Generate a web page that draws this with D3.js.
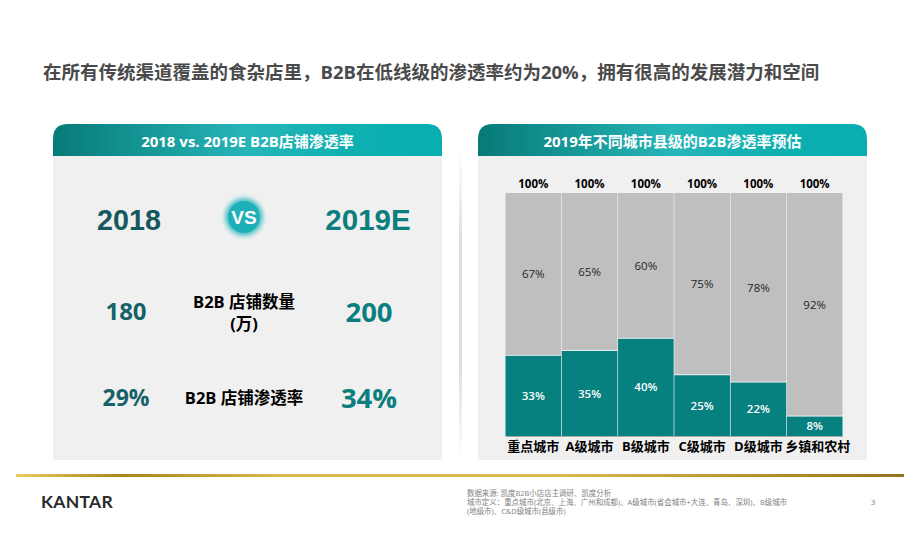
<!DOCTYPE html>
<html><head><meta charset="utf-8">
<script src="https://cdn.jsdelivr.net/npm/d3@7"></script>
<style>html,body{margin:0;padding:0;background:#fff}svg{display:block}
text{font-family:"Open Sans","Noto Sans CJK SC",sans-serif}</style></head>
<body><div id="c"></div>
<script>
const title="在所有传统渠道覆盖的食杂店里，B2B在低线级的渗透率约为20%，拥有很高的发展潜力和空间";
const leftTitle="2018 vs. 2019E B2B店铺渗透率";
const rightTitle="2019年不同城市县级的B2B渗透率预估";
const categories=["重点城市","A级城市","B级城市","C级城市","D级城市","乡镇和农村"];
const penetrated=[33,35,40,25,22,8];
const remaining=[67,65,60,75,78,92];
const totals=[100,100,100,100,100,100];
const compareRows=[
 {l:"180",m:["B2B 店铺数量","(万)"],r:"200",y:312,my:302,ls:24,rs:27.5},
 {l:"29%",m:["B2B 店铺渗透率"],r:"34%",y:398,my:398,ls:23,rs:27.5}];
const footnotes=["数据来源: 凯度B2B小店店主调研、凯度分析","城市定义：重点城市(北京、上海、广州和成都)、A级城市(省会城市+大连、青岛、深圳)、B级城市","(地级市)、C&D级城市(县级市)"];

const W=920,H=559;
const svg=d3.select("#c").append("svg").attr("width",W).attr("height",H);
const defs=svg.append("defs");
function grad(id,stops){const g=defs.append("linearGradient").attr("id",id);
 stops.forEach(s=>g.append("stop").attr("offset",s[0]).attr("stop-color",s[1]));}
grad("hdr",[[0,"#067a78"],[.5,"#27b5b8"],[.75,"#0fb0b2"],[1,"#08aeb0"]]);
grad("gold",[[0,"#e6cd62"],[.12,"#a8851e"],[.3,"#d8bc50"],[.6,"#d9bd52"],[1,"#94741a"]]);
const sh=defs.append("linearGradient").attr("id","sh").attr("x1",0).attr("x2",0).attr("y1",0).attr("y2",1);
[[0,0],[.3,1],[.7,1],[1,0]].forEach(s=>sh.append("stop").attr("offset",s[0]).attr("stop-color","#ddd").attr("stop-opacity",s[1]));
defs.append("filter").attr("id","glow").attr("x","-40%").attr("y","-40%").attr("width","180%").attr("height","180%")
 .append("feGaussianBlur").attr("stdDeviation",2);

function txt(x,y,s,size,fill,weight,anchor){
 return svg.append("text").attr("x",x).attr("y",y).attr("dy","0.35em").attr("text-anchor",anchor||"middle")
  .attr("font-size",size).attr("fill",fill).attr("font-weight",weight||400).text(s);}

txt(43,73,title,18.5,"#4a4a4a",700,"start");

function panel(x,w,t){
 svg.append("rect").attr("x",x).attr("y",156).attr("width",w).attr("height",304).attr("fill","#f0f0f0");
 const r=15,y=124,h=32;
 svg.append("path").attr("d",`M${x},${y+h}V${y+r}Q${x},${y} ${x+r},${y}H${x+w-r}Q${x+w},${y} ${x+w},${y+r}V${y+h}Z`).attr("fill","url(#hdr)");
 return txt(x+w/2,142,t,15,"#fff",700);
}
panel(53,389,leftTitle);
panel(478,389,rightTitle);
svg.append("rect").attr("x",459).attr("y",150).attr("width",3).attr("height",310).attr("fill","url(#sh)");

txt(129,220,"2018",28.7,"#17585f",700).style("font-family","Liberation Sans");
txt(368,220,"2019E",29.5,"#0a7f7d",700).style("font-family","Liberation Sans");
svg.append("circle").attr("cx",244).attr("cy",217).attr("r",19).attr("fill","#1fb3bb").attr("opacity",.75).attr("filter","url(#glow)");
svg.append("circle").attr("cx",244).attr("cy",217).attr("r",16).attr("fill","#1eb0b8");
txt(244,217,"VS",19,"#fff",800).style("font-family","Liberation Sans");

compareRows.forEach(d=>{
 txt(126,d.y,d.l,d.ls,"#17626a",700);
 txt(369,d.y,d.r,d.rs,"#0a7f7d",700);
 d.m.forEach((s,j)=>txt(244,d.my+j*22,s,16.5,"#000",700));
});

// stacked chart
const x=d3.scaleBand().domain(categories).range([505.5,842.5]).paddingInner(0.012).paddingOuter(0);
const y=d3.scaleLinear().domain([0,100]).range([436,193]);
const g=svg.append("g");
g.selectAll(".rem").data(categories).join("rect").attr("class","rem")
 .attr("x",d=>x(d)).attr("width",x.bandwidth())
 .attr("y",(d,i)=>y(penetrated[i]+remaining[i])).attr("height",(d,i)=>y(penetrated[i])-y(penetrated[i]+remaining[i])-1)
 .attr("fill","#bfbfbf");
g.selectAll(".pen").data(categories).join("rect").attr("class","pen")
 .attr("x",d=>x(d)).attr("width",x.bandwidth())
 .attr("y",(d,i)=>y(penetrated[i])).attr("height",(d,i)=>y(0)-y(penetrated[i]))
 .attr("fill","#078080");
const mid=d=>x(d)+x.bandwidth()/2;
g.selectAll(".tot").data(categories).join("text").attr("class","tot")
 .attr("x",mid).attr("y",(d,i)=>y(totals[i])-9).attr("dy","0.35em").attr("text-anchor","middle")
 .attr("font-size",11.5).attr("font-weight",700).attr("fill","#000").text((d,i)=>totals[i]+"%");
g.selectAll(".rl").data(categories).join("text").attr("class","rl")
 .attr("x",mid).attr("y",(d,i)=>(y(penetrated[i])+y(100))/2).attr("dy","0.35em").attr("text-anchor","middle")
 .attr("font-size",11.5).attr("fill","#262626").text((d,i)=>remaining[i]+"%");
g.selectAll(".pl").data(categories).join("text").attr("class","pl")
 .attr("x",mid).attr("y",(d,i)=>(y(penetrated[i])+y(0))/2).attr("dy","0.35em").attr("text-anchor","middle")
 .attr("font-size",11.5).attr("font-weight",600).attr("fill","#fff").text((d,i)=>penetrated[i]+"%");
const axis=svg.append("g").attr("transform","translate(0,436)").call(d3.axisBottom(x).tickSize(0).tickPadding(6));
axis.select(".domain").attr("stroke","#a6a6a6");
axis.selectAll("text").attr("font-size",13).attr("font-weight",700).attr("fill","#000")
 .attr("dx",(d,i)=>i===categories.length-1?3:0)
 .style("font-family",'"Open Sans","Noto Sans CJK SC",sans-serif');

// footer
svg.append("rect").attr("x",16).attr("y",474).attr("width",888).attr("height",3).attr("fill","url(#gold)");
txt(41,502,"KANTAR",17.5,"#2b2b2b",700,"start").style("font-family","Lato").attr("letter-spacing",.3);
footnotes.forEach((s,i)=>txt(467,493.5+i*9,s,7.45,"#7f7f7f",400,"start"));
txt(873,502,"3",8,"#7f7f7f");
</script></body></html>
